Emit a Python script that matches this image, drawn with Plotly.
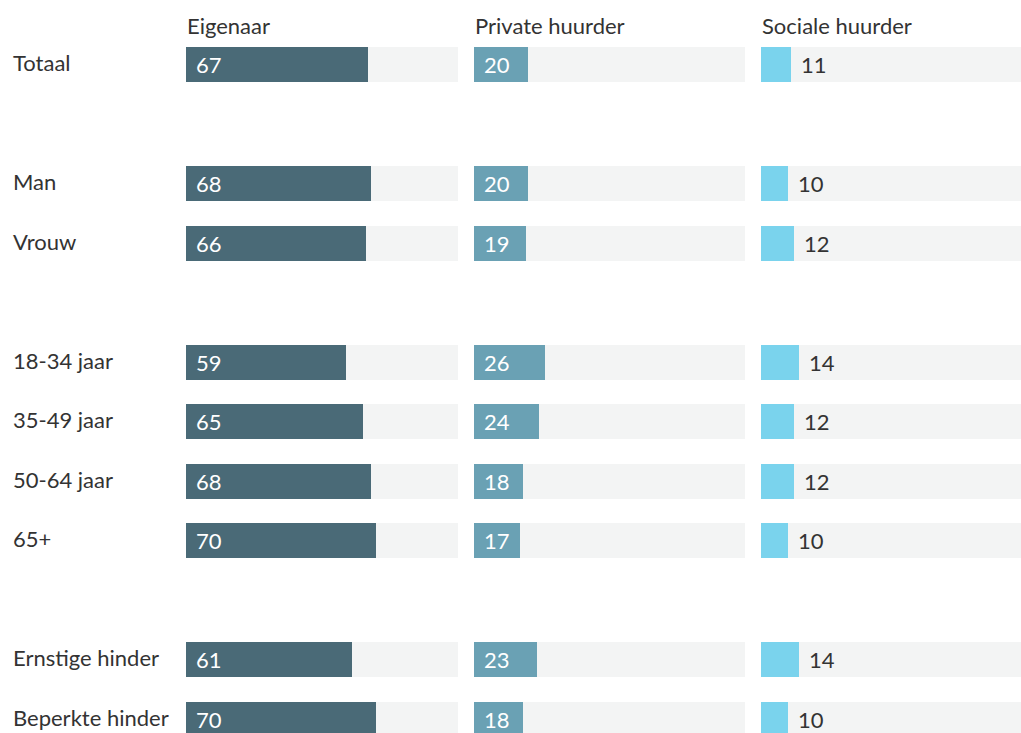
import plotly.graph_objects as go

# ---- data ----
groups = [
    ["Totaal"],
    ["Man", "Vrouw"],
    ["18-34 jaar", "35-49 jaar", "50-64 jaar", "65+"],
    ["Ernstige hinder", "Beperkte hinder"],
]
series_names = ["Eigenaar", "Private huurder", "Sociale huurder"]
eigenaar = [67, 68, 66, 59, 65, 68, 70, 61, 70]
private_huurder = [20, 20, 19, 26, 24, 18, 17, 23, 18]
sociale_huurder = [11, 10, 12, 14, 12, 12, 10, 14, 10]

# ---- layout helpers ----
OFF = 0
W, H = 1021, 733
labels, rows = [], []
r = 0
for g in groups:
    for lab in g:
        labels.append(lab)
        rows.append(r)
        r += 1
    r += 1  # spacer row between groups

row_px0, row_step = 64.5 - OFF, 59.5
y_top = -row_px0 / row_step
y_bot = (H - row_px0) / row_step
bar_w = 35 / row_step

dark, mid, light, bgc = "#4a6a77", "#6aa1b4", "#7ad3ed", "#f3f4f4"
txt = "#333333"
font = "Lato, 'Open Sans', sans-serif"
FS = 22

panels = [
    dict(vals=eigenaar, color=dark, dom=(186, 458), inside=True),
    dict(vals=private_huurder, color=mid, dom=(473.5, 745), inside=True),
    dict(vals=sociale_huurder, color=light, dom=(761, 1021), inside=False),
]
px_per_unit = (458 - 186) / 100.0

fig = go.Figure()
annotations = []
for i, p in enumerate(panels):
    xa = "x" if i == 0 else f"x{i+1}"
    ya = "y" if i == 0 else f"y{i+1}"
    fig.add_trace(go.Bar(x=[100] * len(rows), y=rows, orientation="h", width=bar_w,
                         marker=dict(color=bgc, line_width=0), xaxis=xa, yaxis=ya,
                         hoverinfo="skip", showlegend=False))
    fig.add_trace(go.Bar(x=p["vals"], y=rows, orientation="h", width=bar_w,
                         marker=dict(color=p["color"], line_width=0), xaxis=xa, yaxis=ya,
                         hoverinfo="skip", showlegend=False))
    axkey = "xaxis" if i == 0 else f"xaxis{i+1}"
    aykey = "yaxis" if i == 0 else f"yaxis{i+1}"
    d0, d1 = p["dom"][0] - OFF, p["dom"][1] - OFF
    width_px = d1 - d0
    fig.update_layout(**{
        axkey: dict(domain=[d0 / W, min(d1 / W, 1)],
                    range=[0, width_px / px_per_unit], visible=False, fixedrange=True,
                    anchor=ya),
        aykey: dict(domain=[0, 1], range=[y_bot, y_top], visible=False, fixedrange=True,
                    anchor=xa),
    })
    for v, rr in zip(p["vals"], rows):
        annotations.append(dict(
            x=0 if p["inside"] else v, y=rr, xref=xa, yref=ya, text=str(v),
            xanchor="left", yanchor="middle", xshift=8, yshift=0, showarrow=False,
            font=dict(family=font, size=FS, color="white" if p["inside"] else txt)))
    annotations.append(dict(
        x=0, y=(26 - OFF - row_px0) / row_step, xref=xa, yref=ya, text=series_names[i],
        xanchor="left", yanchor="middle", xshift=-1, yshift=1, showarrow=False,
        font=dict(family=font, size=FS, color=txt)))

for lab, rr in zip(labels, rows):
    annotations.append(dict(
        x=(13 - OFF - 2) / W, y=rr, xref="paper", yref="y", text=lab, xanchor="left",
        yanchor="middle", yshift=2, showarrow=False,
        font=dict(family=font, size=FS, color=txt)))

fig.update_layout(
    width=W, height=H, margin=dict(l=0, r=0, t=0, b=0),
    paper_bgcolor="white", plot_bgcolor="white", barmode="overlay",
    bargap=0, annotations=annotations, hovermode=False,
)
fig.write_html(
    "out.html",
    config={"displayModeBar": False},
    post_script="document.body.style.margin='0';document.body.style.overflow='hidden';",
)
